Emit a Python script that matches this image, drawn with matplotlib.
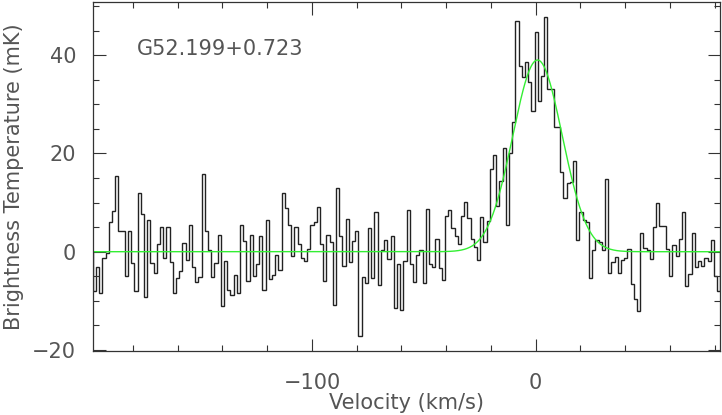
import numpy as np
import matplotlib.pyplot as plt

# spectrum channels (mK), read left to right
t_mk = [
    -8.0, -3.1, -8.5, -1.3, -0.3, 6.0, 8.2, 15.4, 4.3, 4.3, -4.9, 4.2, -2.2, -7.9, 12.0, 7.7,
    -9.3, 6.4, -2.3, -4.3, 1.6, 5.1, -1.3,
    5.1, -2.0, -8.4, -5.3, -4.0, 1.8, -1.6, 5.5, -3.1, -6.2, -5.1, 15.8, 4.3, 0.4, -5.1, -2.3,
    3.5, -11.0, -1.8, -7.7, -8.9, -4.7, -8.4,
    5.5, 2.1, -6.0, 3.5, -4.9, -2.6, 3.1, -7.7, 6.4, -5.5, -4.8, -0.7, -3.7, 12.0, 8.9, 5.5,
    -0.9, 5.0, 1.6, -1.3, -1.8, 0.5, 5.5, 6.0,
    9.1, 1.6, -5.9, 3.5, 1.9, -10.8, 12.9, 3.1, -3.0, 6.7, -2.1, 2.1, 4.3, -17.2, -5.1, -6.4,
    4.8, -5.3, 8.0, -6.7, 0.4, 2.4, -1.5,
    3.2, -11.5, -2.5, -11.9, -1.8, 8.5, -2.4, -6.1, -0.6, 0.4, -6.4, 8.7, -2.4, -3.1, 2.6,
    -3.3, -5.7, 7.2, 8.4, 4.8, 3.1, 1.6, 7.2,
    10.1, 6.8, 2.6, 0.9, -1.6, 7.0, 1.9, 6.2, 16.8, 19.7, 9.2, 14.3, 21.0, 5.5, 20.0, 26.3,
    47.0, 37.8, 35.5, 38.6, 34.6, 28.6, 44.7,
    30.7, 35.7, 47.8, 33.2, 33.0, 25.4, 25.4, 16.3, 10.9, 13.9, 14.1, 18.5, 2.3, 8.1, 6.4,
    6.0, -5.3, 0.3, 2.4, 1.9, 0.3, 14.8, -4.3, -2.0,
    -1.0, -4.3, -1.6, -1.3, 0.5, -6.6, -9.7, -12.0, 3.8, 0.7, 0.4, -1.5, 5.1, 9.9, 5.3, 5.3,
    0.6, -5.0, 1.3, -0.8, 2.6, 8.1, -7.0, -4.5, 3.9, -3.1, -1.8, -3.0, -1.3, -1.8, 2.4,
    -5.0, -7.9,
]
v_lo, v_hi = -198.0, 82.5

# gaussian fit
amp = 39.0
v0 = 0.8
fwhm = 26.0

source = "G52.199+0.723"

plt.rcParams['font.family'] = ['DejaVu Sans']

fig = plt.figure(figsize=(7.22, 4.15), dpi=100)
ax = fig.add_axes([0.1284, 0.1542, 0.8693, 0.841])

n = len(t_mk)
edges = np.linspace(v_lo, v_hi, n + 1)
ax.stairs(t_mk, edges, color='#222222', linewidth=1.0)

vv = np.linspace(v_lo, v_hi, 1000)
sig = fwhm / (2 * np.sqrt(2 * np.log(2)))
ax.plot(vv, amp * np.exp(-0.5 * ((vv - v0) / sig) ** 2), color='#33ee33', linewidth=1.0)

ax.set_xlim(v_lo, v_hi)
ax.set_ylim(-20.2, 50.8)
ax.set_xticks([-100, 0])
ax.set_xticks(np.arange(-180, 81, 20), minor=True)
ax.set_yticks([-20, 0, 20, 40])
ax.set_yticks(np.arange(-20, 51, 5), minor=True)
ax.tick_params(which='both', direction='in', top=True, right=True, color='#333333',
               labelsize=15, labelcolor='#555555', width=0.8)
ax.tick_params(axis='x', which='major', length=9, pad=16)
ax.tick_params(axis='y', which='major', length=9, pad=12)
ax.tick_params(which='minor', length=4.5)
for s in ax.spines.values():
    s.set_linewidth(0.9)
    s.set_color('#333333')

ax.set_xlabel("Velocity (km/s)", fontsize=15, color='#555555', labelpad=0)
ax.set_ylabel("Brightness Temperature (mK)", fontsize=15, color='#555555', labelpad=6)
ax.text(0.07, 0.865, source, transform=ax.transAxes, fontsize=15, color='#555555',
        va='center', ha='left')

fig.savefig("out.png", dpi=100)
